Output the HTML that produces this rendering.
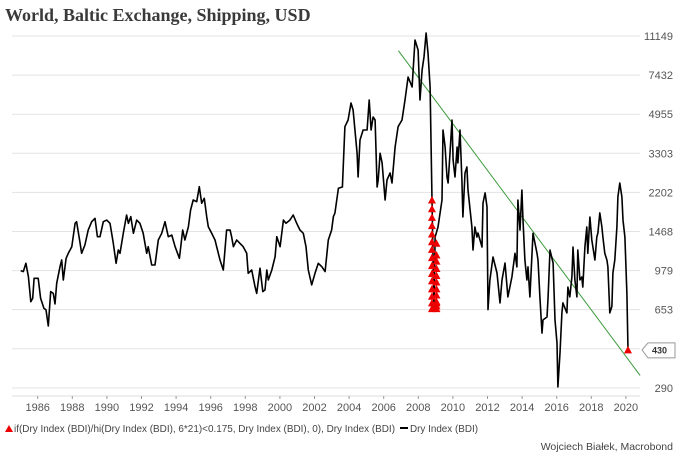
<!DOCTYPE html>
<html><head><meta charset="utf-8"><style>
body{margin:0;background:#fff;width:680px;height:460px;overflow:hidden}
svg{display:block}
</style></head><body>
<svg id="chart" width="680" height="460" xmlns="http://www.w3.org/2000/svg">
<text x="5" y="21" font-family="Liberation Serif, serif" font-weight="bold" font-size="18" fill="#3a3a3a">World, Baltic Exchange, Shipping, USD</text>
<g id="grid"></g>
<g id="yaxis"></g>
<g id="xaxis"></g>
<g id="series"></g>
<g>
<polygon points="5,432 9,425 13,432" fill="#e00"/>
<text x="14" y="432" font-family="Liberation Sans, sans-serif" font-size="10.5" fill="#444" textLength="381" lengthAdjust="spacingAndGlyphs">if(Dry Index (BDI)/hi(Dry Index (BDI), 6*21)&lt;0.175, Dry Index (BDI), 0), Dry Index (BDI)</text>
<line x1="400" y1="428" x2="408" y2="428" stroke="#000" stroke-width="2"/>
<text x="410" y="432" font-family="Liberation Sans, sans-serif" font-size="10.5" fill="#444" textLength="68" lengthAdjust="spacingAndGlyphs">Dry Index (BDI)</text>
</g>
<text x="673" y="450" text-anchor="end" font-family="Liberation Sans, sans-serif" font-size="10.5" fill="#444">Wojciech Białek, Macrobond</text>
</svg>
<script>
const yTicks = [290, 435, 653, 979, 1468, 2202, 3303, 4955, 7432, 11149];
const yTickLabels = ["290", "", "653", "979", "1468", "2202", "3303", "4955", "7432", "11149"];
const xTicks = [1986,1988,1990,1992,1994,1996,1998,2000,2002,2004,2006,2008,2010,2012,2014,2016,2018,2020];
const bdiYears = [1985.02,1985.17,1985.32,1985.46,1985.60,1985.71,1985.79,1986.03,1986.17,1986.36,1986.48,1986.61,1986.75,1986.90,1987.00,1987.10,1987.29,1987.39,1987.48,1987.64,1987.77,1987.97,1988.16,1988.25,1988.45,1988.54,1988.73,1988.92,1989.12,1989.31,1989.45,1989.60,1989.79,1989.99,1990.18,1990.37,1990.53,1990.66,1990.76,1990.95,1991.14,1991.24,1991.38,1991.53,1991.72,1991.91,1992.10,1992.30,1992.39,1992.59,1992.78,1992.97,1993.17,1993.36,1993.55,1993.75,1993.94,1994.19,1994.38,1994.51,1994.71,1994.84,1994.99,1995.19,1995.34,1995.48,1995.63,1995.77,1995.86,1996.06,1996.25,1996.54,1996.73,1996.92,1997.12,1997.21,1997.31,1997.50,1997.69,1997.88,1998.08,1998.17,1998.37,1998.56,1998.66,1998.85,1999.01,1999.14,1999.24,1999.33,1999.53,1999.72,1999.82,2000.01,2000.20,2000.35,2000.58,2000.77,2000.97,2001.16,2001.35,2001.51,2001.64,2001.84,2002.03,2002.22,2002.42,2002.61,2002.80,2002.99,2003.09,2003.18,2003.38,2003.61,2003.76,2003.94,2004.11,2004.23,2004.46,2004.52,2004.63,2004.81,2005.04,2005.16,2005.27,2005.39,2005.50,2005.62,2005.68,2005.79,2005.91,2006.08,2006.19,2006.37,2006.48,2006.66,2006.83,2007.06,2007.23,2007.41,2007.64,2007.81,2007.99,2008.10,2008.22,2008.33,2008.45,2008.56,2008.68,2008.79,2008.91,2008.97,2009.14,2009.26,2009.37,2009.43,2009.55,2009.66,2009.72,2009.83,2009.95,2010.01,2010.12,2010.24,2010.29,2010.41,2010.52,2010.58,2010.70,2010.81,2010.87,2011.10,2011.16,2011.27,2011.39,2011.45,2011.68,2011.74,2011.86,2011.97,2012.03,2012.14,2012.32,2012.55,2012.72,2012.84,2013.01,2013.18,2013.41,2013.59,2013.70,2013.76,2013.88,2013.99,2014.05,2014.16,2014.28,2014.34,2014.45,2014.63,2014.86,2014.92,2015.03,2015.15,2015.21,2015.44,2015.50,2015.61,2015.79,2015.90,2016.02,2016.07,2016.19,2016.30,2016.36,2016.59,2016.65,2016.76,2016.88,2016.94,2017.05,2017.17,2017.22,2017.34,2017.45,2017.51,2017.63,2017.74,2017.80,2017.92,2018.03,2018.09,2018.21,2018.32,2018.38,2018.49,2018.61,2018.67,2018.78,2018.90,2018.96,2019.07,2019.19,2019.25,2019.36,2019.48,2019.54,2019.65,2019.77,2019.83,2019.94,2020.06,2020.12];
const bdiValues = [979,969,1056,919,709,735,904,904,735,662,651,551,787,773,693,858,1019,1093,888,1112,1171,1254,1598,1625,1299,1171,1276,1490,1625,1684,1391,1391,1625,1653,1598,1299,1056,1212,1171,1441,1742,1598,1714,1441,1653,1598,1441,1171,1254,1037,1037,1344,1441,1625,1391,1415,1254,1112,1490,1344,1543,1835,2035,2000,2336,1967,2072,1714,1543,1441,1344,1093,985,1490,1490,1391,1254,1344,1299,1254,1171,952,985,829,773,1003,787,801,985,888,985,1131,1391,1254,1653,1598,1653,1742,1598,1490,1441,1254,985,844,952,1056,1019,969,1344,1490,1714,1775,2298,2329,4351,4667,5564,5178,3303,2583,3792,4205,4205,5739,4205,4813,4667,2329,2504,3303,2989,2035,2504,2693,2427,3525,4351,4667,5739,7285,6572,10700,9643,5739,7837,8970,11500,9350,6572,2035,663,1387,1538,1781,2035,4205,3525,2583,2427,3303,4667,3083,2583,3525,2989,4205,2504,1706,2693,2866,2258,1538,1212,1538,1386,1446,1250,1973,2190,1892,653,888,1127,955,700,888,1058,745,916,1171,1017,2035,1490,2258,1653,1093,888,1017,745,1441,1171,1093,745,512,587,605,745,1212,1058,587,462,293,417,631,700,631,825,745,916,1250,888,745,1212,888,916,825,1250,1538,1171,1706,1344,1250,1093,1386,1446,1781,1538,1386,1171,1093,1017,631,675,955,1093,1538,2099,2427,2099,1653,1386,770,430];
const signalYears = [2008.79,2008.79,2008.79,2008.79,2008.79,2008.79,2008.79,2008.79,2008.79,2008.79,2008.79,2008.79,2008.79,2008.79,2008.79,2009.05,2009.05,2009.05,2009.05,2009.05,2009.05,2009.05,2009.05,2009.05,2009.05,2009.05,2009.05,2020.12];
const signalValues = [2035,1860,1700,1560,1430,1320,1220,1120,1030,950,880,810,750,700,660,1300,1150,1080,1000,930,870,810,760,710,680,660,700,430];
const trendYears = [2006.85, 2020.82];
const trendValues = [9575, 330];
const lastLabel = "430";

const NS = "http://www.w3.org/2000/svg";
const X0 = 37.7, PXY = 17.3;
function xs(yr){ return X0 + (yr - 1986) * PXY; }
function ys(v){ return 36 + 39.1 * Math.log(11149 / v) / Math.log(1.5); }
function mk(tag, attrs, parent){ const e = document.createElementNS(NS, tag); for (const k in attrs) e.setAttribute(k, attrs[k]); parent.appendChild(e); return e; }

const grid = document.getElementById('grid');
const yax = document.getElementById('yaxis');
yTicks.forEach((t, i) => {
  const y = ys(t);
  const gl = mk('line', {x1: 12, x2: 640, y1: y, y2: y, stroke: '#e3e3e3', 'stroke-width': 1}, grid);
  
  
  if (yTickLabels[i]) {
    const tx = mk('text', {x: 673, y: y + 4, 'text-anchor': 'end', 'font-family': 'Liberation Sans, sans-serif', 'font-size': 11, fill: '#555'}, yax);
    tx.textContent = yTickLabels[i];
    
    
  }
});
const xax = document.getElementById('xaxis');
const axl = mk('line', {x1: 12, x2: 640, y1: 396, y2: 396, stroke: '#ddd', 'stroke-width': 1}, xax);


xTicks.forEach(t => {
  const x = xs(t);
  const tk = mk('line', {x1: x, x2: x, y1: 396, y2: 399, stroke: '#999'}, xax);
  
  
  const tx = mk('text', {x: x, y: 411, 'text-anchor': 'middle', 'font-family': 'Liberation Sans, sans-serif', 'font-size': 11, fill: '#555'}, xax);
  tx.textContent = t;
  
  
});

const ser = document.getElementById('series');
const tl = mk('line', {x1: xs(trendYears[0]), y1: ys(trendValues[0]), x2: xs(trendYears[1]), y2: ys(trendValues[1]), stroke: '#3a9a3a', 'stroke-width': 1}, ser);


const pts = bdiYears.map((yr, i) => xs(yr).toFixed(1) + ',' + ys(bdiValues[i]).toFixed(1)).join(' ');
const pl = mk('polyline', {points: pts, fill: 'none', stroke: '#000', 'stroke-width': 1.6, 'stroke-linejoin': 'round'}, ser);


signalYears.forEach((yr, i) => {
  const x = xs(yr), y = ys(signalValues[i]);
  const tri = mk('polygon', {points: `${x-4},${y+3.5} ${x},${y-4} ${x+4},${y+3.5}`, fill: '#e00'}, ser);
  
  
});
const ly = ys(bdiValues[bdiValues.length - 1]);
const lb = mk('path', {d: `M642,${ly} L648,${ly-7} L675,${ly-7} L675,${ly+8} L648,${ly+8} Z`, fill: '#fff', stroke: '#999', 'stroke-width': 1}, ser);


const lt = mk('text', {x: 652, y: ly + 3.5, 'font-family': 'Liberation Sans, sans-serif', 'font-size': 9, 'font-weight': 'bold', fill: '#333'}, ser);
lt.textContent = lastLabel;


</script>
</body></html>
